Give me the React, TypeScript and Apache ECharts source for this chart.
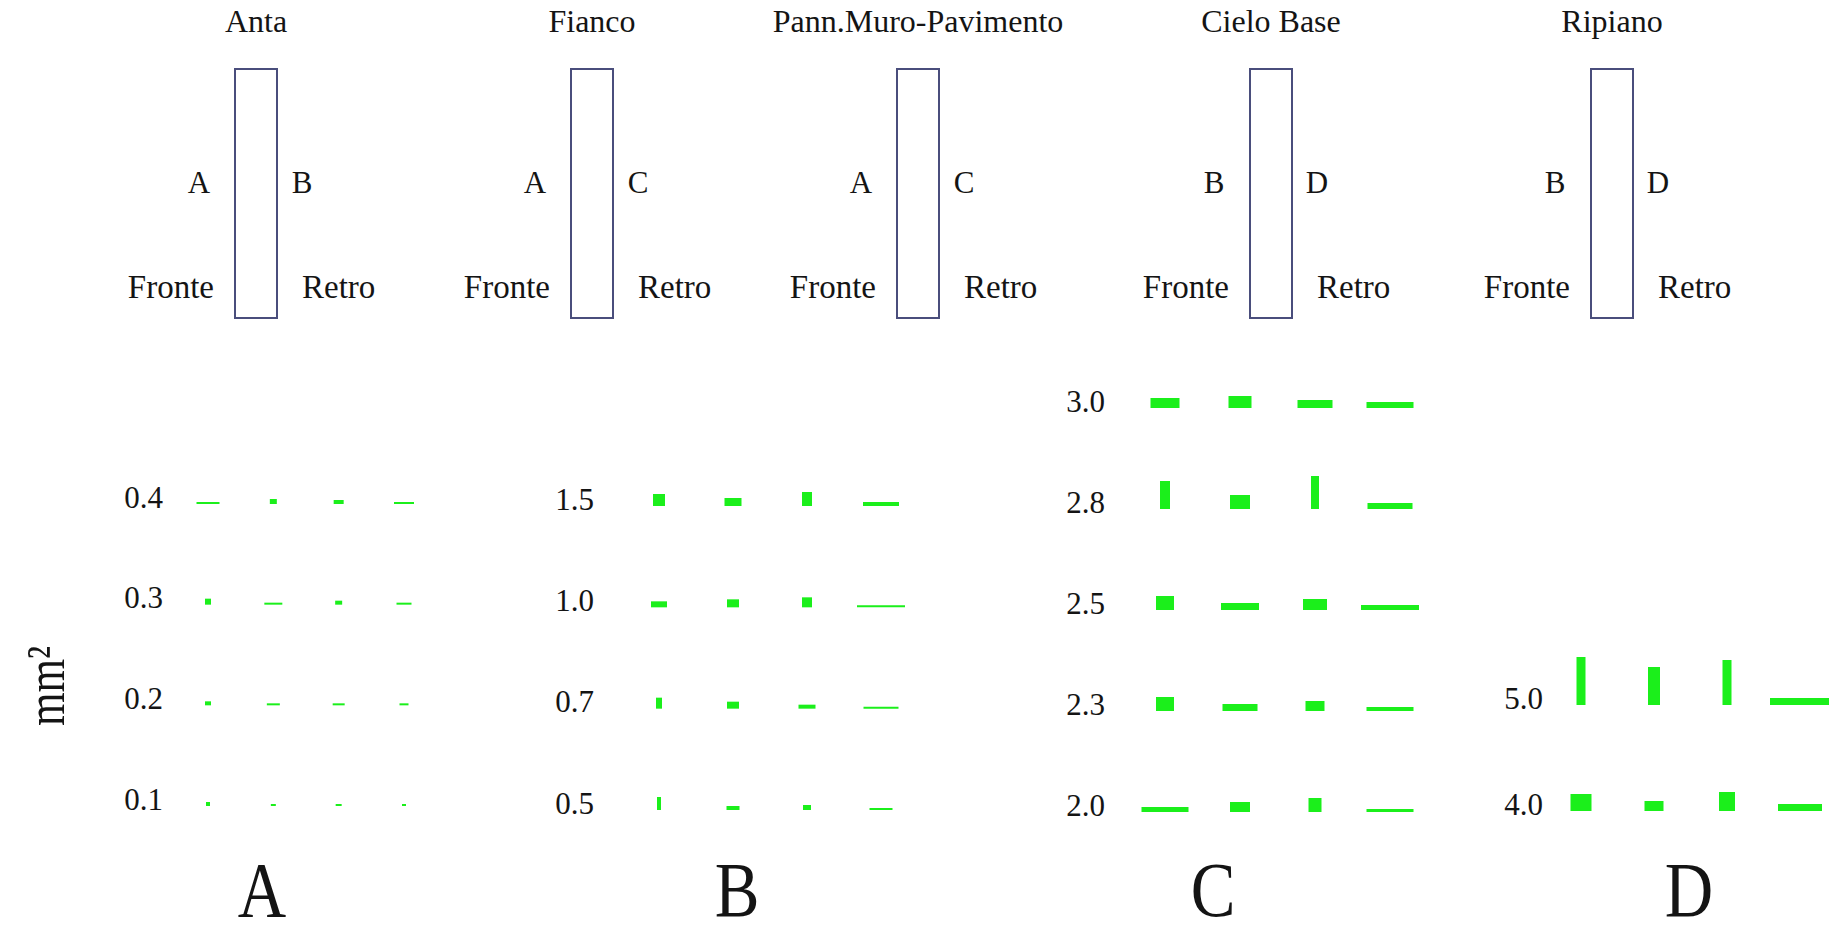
import React, { useEffect, useRef } from 'react';
import * as echarts from 'echarts';

// ---- Top diagrams ----
const panelTitles = ['Anta', 'Fianco', 'Pann.Muro-Pavimento', 'Cielo Base', 'Ripiano'];
const panelLeftLetters = ['A', 'A', 'A', 'B', 'B'];
const panelRightLetters = ['B', 'C', 'C', 'D', 'D'];
const frontLabel = 'Fronte';
const backLabel = 'Retro';

// ---- Bottom groups ----
const groupNames = ['A', 'B', 'C', 'D'];
const columns = ['1', '2', '3', '4'];
const yUnit = 'mm²';

// rows listed bottom -> top; each row has the 4 columns
const groupALabels = ['0.1', '0.2', '0.3', '0.4'];
const groupAWidths = [[4, 5, 6, 4], [6, 13, 12, 9], [6, 18, 7, 15], [23, 7, 10, 20]];
const groupAHeights = [[4, 2, 2, 2], [4, 2, 2, 2], [6, 2, 4, 2], [2, 5, 4, 2]];

const groupBLabels = ['0.5', '0.7', '1.0', '1.5'];
const groupBWidths = [[4, 13, 8, 23], [6, 12, 17, 35], [16, 12, 10, 48], [12, 17, 10, 36]];
const groupBHeights = [[13, 4, 5, 2], [11, 7, 4, 2], [6, 8, 10, 2], [12, 8, 14, 4]];

const groupCLabels = ['2.0', '2.3', '2.5', '2.8', '3.0'];
const groupCWidths = [[47, 20, 13, 47], [18, 35, 19, 47], [18, 38, 24, 58], [10, 20, 8, 45], [29, 23, 35, 47]];
const groupCHeights = [[5, 10, 14, 3], [14, 7, 10, 4], [14, 7, 11, 5], [28, 14, 33, 6], [10, 12, 8, 6]];

const groupDLabels = ['4.0', '5.0'];
const groupDWidths = [[21, 19, 16, 44], [9, 12, 9, 60]];
const groupDHeights = [[17, 10, 19, 7], [48, 38, 45, 7]];

const groups = [
  { labels: groupALabels, widths: groupAWidths, heights: groupAHeights },
  { labels: groupBLabels, widths: groupBWidths, heights: groupBHeights },
  { labels: groupCLabels, widths: groupCWidths, heights: groupCHeights },
  { labels: groupDLabels, widths: groupDWidths, heights: groupDHeights },
];

const PX_PER_UNIT = 1;
const GREEN = '#1bef1b';
const INK = '#141414';
const FRAME = '#4a4e7c';
const FONT = '"Liberation Serif", "DejaVu Serif", serif';

// layout (grid rows sit at the tick-label centres; marks are bottom-aligned just below)
const MARK_DROP = 7;
const gridLayout = [
  { left: 208, width: 196, top: 497, height: 302, margin: 45 },
  { left: 659, width: 222, top: 499, height: 304, margin: 65 },
  { left: 1165, width: 225, top: 401, height: 404, margin: 60 },
  { left: 1581, width: 219, top: 698, height: 106, margin: 38 },
];
const panelCenters = [256, 592, 918, 1271, 1612];
const bigLetterX = [262, 737, 1213, 1689];

export default function App() {
  const ref = useRef<HTMLDivElement>(null);
  useEffect(() => {
    document.body.style.margin = '0';
    if (!ref.current) return;
    const chart = echarts.init(ref.current, undefined, { renderer: 'svg' });

    const graphics: any[] = [];
    const rectW = 42;
    const rectTop = 69;
    const rectH = 249;
    panelTitles.forEach((t, i) => {
      const cx = panelCenters[i];
      const l = cx - rectW / 2;
      const r = cx + rectW / 2;
      graphics.push({
        type: 'text', x: cx, y: 21,
        style: { text: t, fill: INK, font: `32px ${FONT}`, textAlign: 'center', textVerticalAlign: 'middle' },
      });
      graphics.push({
        type: 'rect', shape: { x: l, y: rectTop, width: rectW, height: rectH },
        style: { fill: 'none', stroke: FRAME, lineWidth: 2 },
      });
      graphics.push({
        type: 'text', x: l - 36, y: 182,
        style: { text: panelLeftLetters[i], fill: INK, font: `31px ${FONT}`, textAlign: 'center', textVerticalAlign: 'middle' },
      });
      graphics.push({
        type: 'text', x: r + 25, y: 182,
        style: { text: panelRightLetters[i], fill: INK, font: `31px ${FONT}`, textAlign: 'center', textVerticalAlign: 'middle' },
      });
      graphics.push({
        type: 'text', x: l - 21, y: 287,
        style: { text: frontLabel, fill: INK, font: `33px ${FONT}`, textAlign: 'right', textVerticalAlign: 'middle' },
      });
      graphics.push({
        type: 'text', x: r + 25, y: 287,
        style: { text: backLabel, fill: INK, font: `33px ${FONT}`, textAlign: 'left', textVerticalAlign: 'middle' },
      });
    });
    groupNames.forEach((g, i) => {
      graphics.push({
        type: 'text', x: bigLetterX[i], y: 890, scaleX: 0.86,
        style: { text: g, fill: INK, font: `78px ${FONT}`, textAlign: 'center', textVerticalAlign: 'middle' },
      });
    });
    graphics.push({
      type: 'text', x: 46, y: 686, rotation: Math.PI / 2, scaleX: 0.8,
      style: { text: yUnit, fill: INK, font: `54px ${FONT}`, textAlign: 'center', textVerticalAlign: 'middle' },
    });

    const grid = gridLayout.map((g) => ({ left: g.left, top: g.top, width: g.width, height: g.height, containLabel: false }));
    const xAxis = gridLayout.map((_, i) => ({
      type: 'category', gridIndex: i, data: columns, boundaryGap: false, show: false,
    }));
    const yAxis = groups.map((grp, i) => ({
      type: 'category', gridIndex: i, data: grp.labels, boundaryGap: false,
      axisLine: { show: false }, axisTick: { show: false }, splitLine: { show: false },
      axisLabel: {
        interval: 0, margin: gridLayout[i].margin, color: INK, fontFamily: FONT, fontSize: 31,
      },
    }));
    const series = groups.map((grp, i) => {
      const data: any[] = [];
      grp.labels.forEach((_, r) => {
        columns.forEach((_, c) => {
          const w = grp.widths[r][c] * PX_PER_UNIT;
          const h = grp.heights[r][c] * PX_PER_UNIT;
          data.push({ value: [c, r], symbolSize: [w, h], symbolOffset: [0, MARK_DROP - h / 2] });
        });
      });
      return {
        type: 'scatter', xAxisIndex: i, yAxisIndex: i, symbol: 'rect', data,
        itemStyle: { color: GREEN, opacity: 1 }, silent: true,
      };
    });

    chart.setOption({
      animation: false,
      backgroundColor: '#ffffff',
      grid, xAxis, yAxis, series, graphic: graphics,
    });
    return () => chart.dispose();
  }, []);
  return <div ref={ref} style={{ position: 'absolute', left: 0, top: 0, width: 1829, height: 936 }} />;
}
